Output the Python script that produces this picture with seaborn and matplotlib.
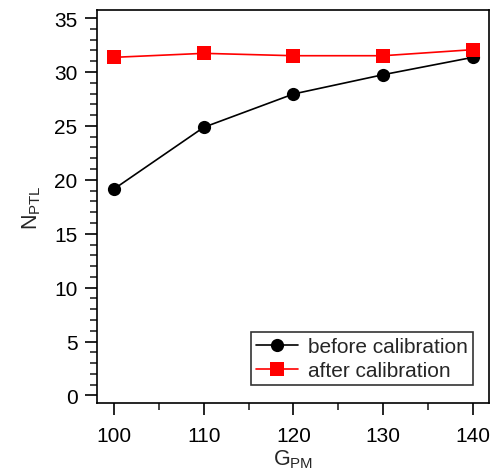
import matplotlib
matplotlib.use("Agg")
import matplotlib.pyplot as plt
import seaborn as sns
import pandas as pd
from matplotlib.ticker import MultipleLocator

g_pm = [100, 110, 120, 130, 140]
before = [19.15, 24.87, 27.96, 29.75, 31.36]
after = [31.36, 31.73, 31.51, 31.51, 32.07]
labels = ["before calibration", "after calibration"]

df = pd.DataFrame({
    "G": g_pm * 2,
    "N": before + after,
    "series": [labels[0]] * 5 + [labels[1]] * 5,
})

sns.set_style("white")
plt.rcParams['font.family'] = ['Liberation Sans', 'DejaVu Sans']
plt.rcParams['mathtext.fontset'] = 'custom'
plt.rcParams['mathtext.rm'] = 'Liberation Sans'
plt.rcParams['mathtext.it'] = 'Liberation Sans'

fig = plt.figure(figsize=(4.9, 4.77), dpi=100)
ax = fig.add_axes([97/490, 1 - 404/477, (489 - 97)/490, (404 - 11)/477])

sns.lineplot(data=df, x="G", y="N", hue="series", style="series",
             palette={labels[0]: "black", labels[1]: "red"},
             markers={labels[0]: "o", labels[1]: "s"},
             dashes=False, markersize=9.5, linewidth=1.2,
             markeredgewidth=0, ax=ax)

ax.set_xlim(98.1, 141.8)
ax.set_ylim(-0.7, 35.75)
ax.xaxis.set_major_locator(MultipleLocator(10))
ax.xaxis.set_minor_locator(MultipleLocator(5))
ax.yaxis.set_major_locator(MultipleLocator(5))
ax.yaxis.set_minor_locator(MultipleLocator(1))
ax.tick_params(axis='both', which='major', direction='out', length=8.6, width=1.2,
               labelsize=15, bottom=True, left=True, colors='black')
ax.tick_params(axis='x', which='major', pad=8)
ax.tick_params(axis='y', which='major', pad=5.5)
ax.tick_params(axis='both', which='minor', direction='out', length=5, width=1.2,
               bottom=True, left=True)
for s in ax.spines.values():
    s.set_color('black')
    s.set_linewidth(1.2)

ax.set_xlabel(r"G$_{\mathregular{PM}}$", fontsize=15.5, labelpad=2)
ax.set_ylabel(r"N$_{\mathregular{PTL}}$", fontsize=15.5, labelpad=8)

leg = ax.legend(loc='lower right', bbox_to_anchor=(0.96, 0.045), fontsize=15,
                frameon=True, fancybox=False, edgecolor='black',
                handlelength=2.0, borderpad=0.25, labelspacing=0.25,
                handletextpad=0.5, borderaxespad=0, title=None)
leg.get_frame().set_linewidth(1.2)

fig.savefig("out.png", dpi=100)
